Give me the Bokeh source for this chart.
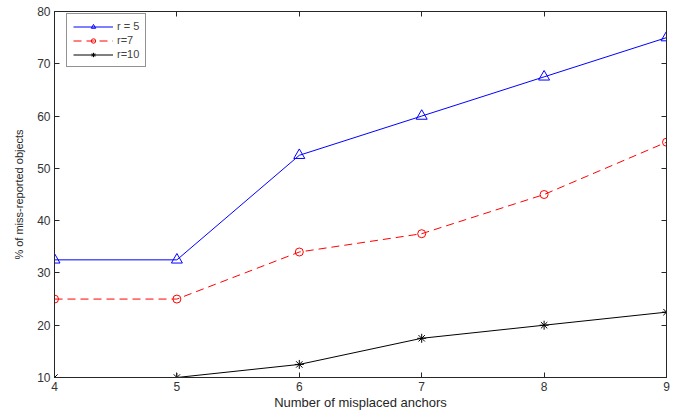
from bokeh.plotting import figure
from bokeh.models import LinearAxis, Range1d, FixedTicker, Legend
from bokeh.embed import file_html
from bokeh.resources import INLINE

anchors = [4, 5, 6, 7, 8, 9]
r5 = [32.5, 32.5, 52.5, 60, 67.5, 75]
r7 = [25, 25, 34, 37.5, 45, 55]
r10 = [10, 10, 12.5, 17.5, 20, 22.5]
x_ticks = [4, 5, 6, 7, 8, 9]
y_ticks = [10, 20, 30, 40, 50, 60, 70, 80]

FONT = "Liberation Sans"

p = figure(width=672, height=412, output_backend="svg", toolbar_location=None,
           x_range=Range1d(4, 9), y_range=Range1d(10, 80),
           min_border_left=54, min_border_right=6, min_border_top=11, min_border_bottom=10)
p.background_fill_color = "white"
p.border_fill_color = "white"
p.grid.visible = False
p.outline_line_color = "#262626"
p.outline_line_width = 1

def style_axis(ax, ticks, labels=True):
    ax.ticker = FixedTicker(ticks=ticks)
    ax.major_tick_in = 5
    ax.major_tick_out = 0
    ax.minor_tick_line_color = None
    ax.axis_line_color = "#262626"
    ax.major_tick_line_color = "#262626"
    ax.major_label_text_font = FONT
    ax.major_label_text_font_size = "12px"
    ax.major_label_text_color = "#333333"
    ax.major_label_standoff = 4
    if not labels:
        ax.major_label_text_font_size = "0px"
        ax.major_label_standoff = 0

style_axis(p.xaxis[0], x_ticks)
style_axis(p.yaxis[0], y_ticks)
p.xaxis.axis_label = "Number of misplaced anchors"
p.yaxis.axis_label = "% of miss-reported objects"
for ax in (p.xaxis[0], p.yaxis[0]):
    ax.axis_label_text_font = FONT
    ax.axis_label_text_font_style = "normal"
    ax.axis_label_text_color = "#262626"
p.xaxis[0].axis_label_text_font_size = "13px"
p.xaxis[0].axis_label_standoff = 1
p.yaxis[0].axis_label_text_font_size = "11px"
p.yaxis[0].axis_label_standoff = 9

ra = LinearAxis()
style_axis(ra, y_ticks, labels=False)
p.add_layout(ra, "right")
ta = LinearAxis()
style_axis(ta, x_ticks, labels=False)
p.add_layout(ta, "above")

l1 = p.line(anchors, r5, line_color="blue", line_width=1)
m1 = p.scatter(anchors, r5, marker="triangle", size=11, line_color="blue", fill_color=None)
l2 = p.line(anchors, r7, line_color="red", line_width=1, line_dash="8 5")
m2 = p.scatter(anchors, r7, marker="circle", size=8, line_color="red", fill_color=None)
l3 = p.line(anchors, r10, line_color="black", line_width=1)
m3 = p.scatter(anchors, r10, marker="asterisk", size=9, line_color="black")

legend = Legend(items=[("r = 5", [l1, m1]), ("r=7", [l2, m2]), ("r=10", [l3, m3])])
legend.glyph_width = 40
legend.glyph_height = 11
legend.label_text_font = FONT
legend.label_text_font_size = "11px"
legend.label_standoff = 4
legend.spacing = 2
legend.padding = 6
legend.margin = 0
legend.location = (12, 310)
legend.border_line_color = "#262626"
legend.label_height = 11
p.add_layout(legend)

open("out.html", "w").write(file_html(p, INLINE))
